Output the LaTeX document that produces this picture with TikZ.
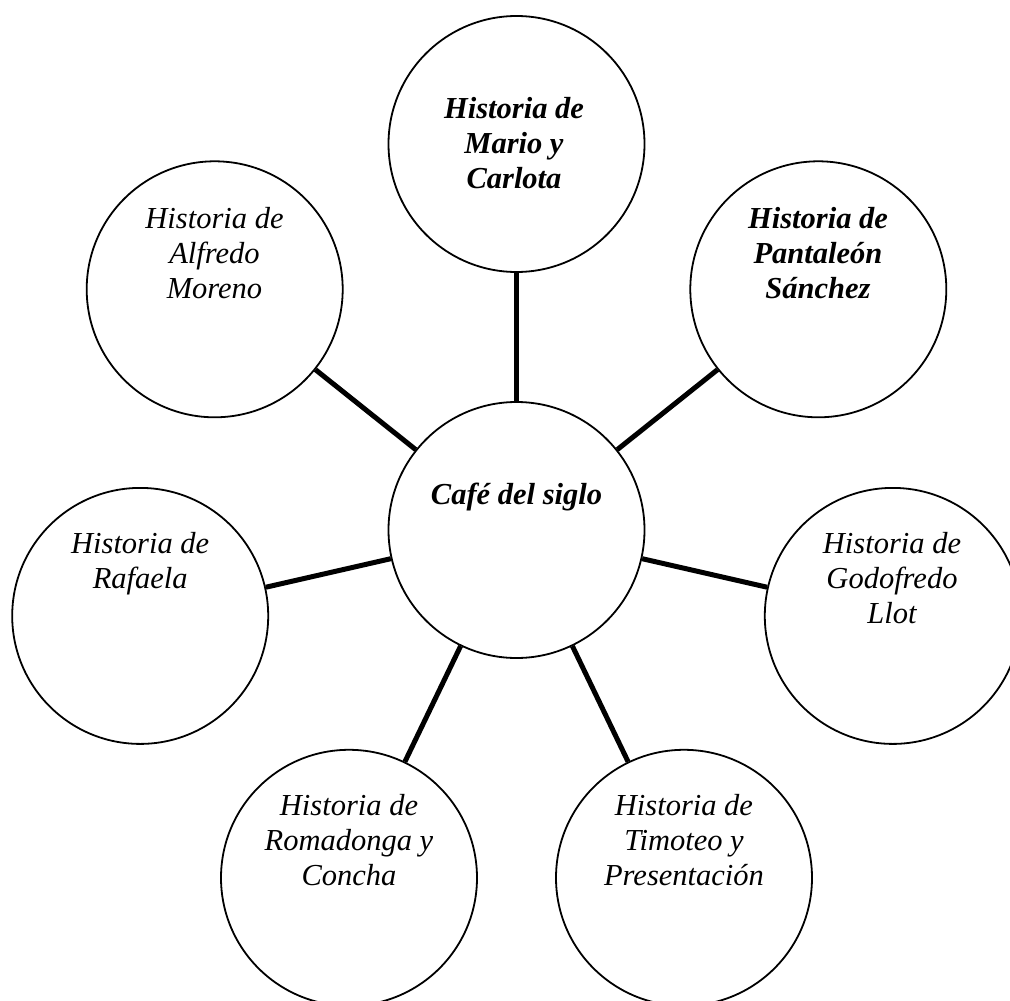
\documentclass[tikz,border=0pt]{standalone}
\usepackage{fontspec}
\setmainfont{Liberation Serif}
\begin{document}
\begin{tikzpicture}[x=1pt,y=-1pt,
  bubble/.style={circle,draw,line width=1.8pt,minimum size=256pt,inner sep=0pt},
  story/.style={anchor=north,align=center,inner sep=0pt,
    font=\fontsize{30.5}{35}\selectfont\itshape},
  boldstory/.style={story,font=\fontsize{30.5}{35}\selectfont\bfseries\itshape},
  link/.style={line width=5pt}]
\useasboundingbox (0,0) rectangle (1010,1001);
\fill[white] (0,0) rectangle (1010,1001);
% circles
\node[bubble] (c)  at (516.5,530) {};
\node[bubble] (n1) at (516.5,144) {};
\node[bubble] (n2) at (214.7,289.3) {};
\node[bubble] (n3) at (818.3,289.3) {};
\node[bubble] (n4) at (140.2,615.9) {};
\node[bubble] (n5) at (892.8,615.9) {};
\node[bubble] (n6) at (349,877.8) {};
\node[bubble] (n7) at (684,877.8) {};
% connectors
\foreach \n in {n1,n2,n3,n4,n5,n6,n7} \draw[link] (c) -- (\n);
% texts
\node[boldstory] (tc) at (516.5,483) {Café del siglo};
\node[boldstory] (t1) at (514,97) {Historia de\\Mario y\\Carlota};
\node[story] (t2) at (214.5,207) {Historia de\\Alfredo\\Moreno};
\node[boldstory] (t3) at (818,207) {Historia de\\Pantaleón\\Sánchez};
\node[story] (t4) at (140.2,532) {Historia de\\Rafaela};
\node[story] (t5) at (892,532) {Historia de\\Godofredo\\Llot};
\node[story] (t6) at (349,794) {Historia de\\Romadonga y\\Concha};
\node[story] (t7) at (684,794) {Historia de\\Timoteo y\\Presentación};
\end{tikzpicture}
\end{document}
